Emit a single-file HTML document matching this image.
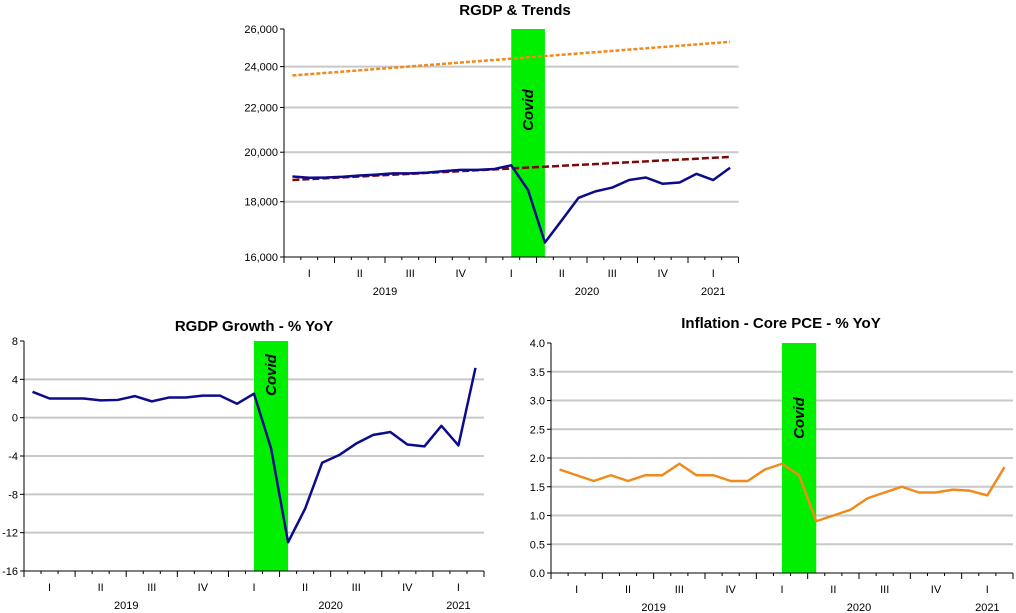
<!DOCTYPE html>
<html><head><meta charset="utf-8"><style>
html,body{margin:0;padding:0;background:#fff;}
svg{display:block;font-family:"Liberation Sans",sans-serif;}
</style></head><body>
<svg id="s" width="1016" height="613" xmlns="http://www.w3.org/2000/svg"></svg>
<script>
// ---- data ----
const quarterLabels = ["I","II","III","IV","I","II","III","IV","I"];
const yearLabels = ["2019","2020","2021"];
const rgdp = [18990,18940,18950,18980,19030,19070,19120,19120,19150,19210,19260,19260,19300,19450,18450,16500,17300,18150,18400,18550,18850,18950,18700,18750,19100,18850,19350];
const trendLow = [18850,19800];
const trendHigh = [23550,25300];
const rgdpTicks = [16000,18000,20000,22000,24000,26000];
const growth = [2.7,2.0,2.0,2.0,1.8,1.85,2.25,1.7,2.1,2.1,2.3,2.3,1.45,2.5,-3.2,-13.0,-9.5,-4.7,-3.9,-2.7,-1.8,-1.5,-2.8,-3.0,-0.85,-2.9,5.2];
const growthTicks = [-16,-12,-8,-4,0,4,8];
const pce = [1.8,1.7,1.6,1.7,1.6,1.7,1.7,1.9,1.7,1.7,1.6,1.6,1.8,1.9,1.7,0.9,1.0,1.1,1.3,1.4,1.5,1.4,1.4,1.45,1.43,1.35,1.84];
const pceTicks = [0.0,0.5,1.0,1.5,2.0,2.5,3.0,3.5,4.0];
const covidStart = 13.5, covidEnd = 15.5;

const NS="http://www.w3.org/2000/svg";
const svg=document.getElementById('s');
function mk(tag,attrs,parent){const e=document.createElementNS(NS,tag);for(const k in attrs)e.setAttribute(k,attrs[k]);(parent||svg).appendChild(e);return e;}

function chart(o){
  const g=mk('g',{});
  
  
  const nM=27, mw=(o.x1-o.x0)/nM;
  const X=i=>o.x0+(i+0.5)*mw;
  const Xe=i=>o.x0+i*mw;
  const Y=o.log ? (v=>o.y1-(Math.log(v/o.min)/Math.log(o.max/o.min))*(o.y1-o.y0)) : (v=>o.y1-(v-o.min)/(o.max-o.min)*(o.y1-o.y0));
  const t=mk('text',{x:o.tx,y:o.ty,'text-anchor':'middle','font-size':15,'font-weight':'bold',fill:'#000'},g);
  t.textContent=o.title;
  
  
  o.ticks.forEach(v=>{
    const y=Y(v);
    if(v!==o.min && v!==o.max){
      const l=mk('line',{x1:o.x0,x2:o.x1,y1:y,y2:y,stroke:'#c8c8c8','stroke-width':2},g);
      
      
    }
    mk('line',{x1:o.x0-4,x2:o.x0,y1:y,y2:y,stroke:'#000'},g);
    const tl=mk('text',{x:o.x0-6,y:y+4,'text-anchor':'end','font-size':11,fill:'#000'},g);
    tl.textContent=o.fmt(v);
    
    
  });
  const b=mk('rect',{x:X(covidStart-0.5),y:o.y0,width:(covidEnd-covidStart)*mw,height:o.y1-o.y0,fill:'#00ee00'},g);
  
  
  const cx=X(covidStart-0.5)+(covidEnd-covidStart)*mw/2+5;
  const ct=mk('text',{x:0,y:0,'text-anchor':'middle','font-size':15,'font-weight':'bold','font-style':'italic',fill:'#000',transform:`translate(${cx},${o.covidY}) rotate(-90)`},g);
  ct.textContent='Covid';
  
  
  mk('line',{x1:o.x0,x2:o.x0,y1:o.y0,y2:o.y1,stroke:'#000'},g);
  mk('line',{x1:o.x0,x2:o.x1,y1:o.y1,y2:o.y1,stroke:'#000'},g);
  for(let i=0;i<=nM;i++){
    const big=i%3===0;
    mk('line',{x1:Xe(i),x2:Xe(i),y1:o.y1,y2:o.y1+(big?6:3),stroke:'#000'},g);
  }
  quarterLabels.forEach((q,k)=>{
    const ql=mk('text',{x:Xe(k*3+1.5),y:o.y1+20,'text-anchor':'middle','font-size':11,fill:'#000'},g);
    ql.textContent=q;
    
    
  });
  const yrPos=[6,18,25.5];
  yearLabels.forEach((yr,k)=>{
    const yl=mk('text',{x:Xe(yrPos[k]),y:o.y1+38,'text-anchor':'middle','font-size':11,fill:'#000'},g);
    yl.textContent=yr;
    
    
  });
  o.series.forEach(s=>{
    let pts;
    if(s.vals.length===2) pts=[[X(0),Y(s.vals[0])],[X(nM-1),Y(s.vals[1])]];
    else pts=s.vals.map((v,i)=>[X(i),Y(v)]);
    const p=mk('polyline',{points:pts.map(p=>p.join(',')).join(' '),fill:'none',stroke:s.color,'stroke-width':s.w,'stroke-dasharray':s.dash||'none','stroke-linejoin':'round'},g);
    
    
  });
}

chart({name:'rgdp-trends-chart',title:'RGDP & Trends',tx:515,ty:15,x0:284,x1:738.5,y0:29,y1:257,min:16000,max:26000,log:true,
  ticks:rgdpTicks,fmt:v=>v.toLocaleString('en-US'),covidY:110,
  series:[
    {name:'trend-high-line',vals:trendHigh,color:'#f08a1c',w:2.5,dash:'4,2'},
    {name:'trend-low-line',vals:trendLow,color:'#7a0a0a',w:2.5,dash:'7,3'},
    {name:'rgdp-line',vals:rgdp,color:'#0c0c8a',w:2.5}
  ]});
chart({name:'rgdp-growth-chart',title:'RGDP Growth - % YoY',tx:254,ty:331,x0:24,x1:484,y0:341,y1:571,min:-16,max:8,log:false,
  ticks:growthTicks,fmt:v=>String(v),covidY:375,
  series:[{name:'growth-line',vals:growth,color:'#0c0c8a',w:2.5}]});
chart({name:'core-pce-chart',title:'Inflation - Core PCE - % YoY',tx:781,ty:328,x0:551,x1:1013,y0:343,y1:573,min:0,max:4,log:false,
  ticks:pceTicks,fmt:v=>v.toFixed(1),covidY:418,
  series:[{name:'pce-line',vals:pce,color:'#f08a1c',w:2.5}]});
</script>
</body></html>
